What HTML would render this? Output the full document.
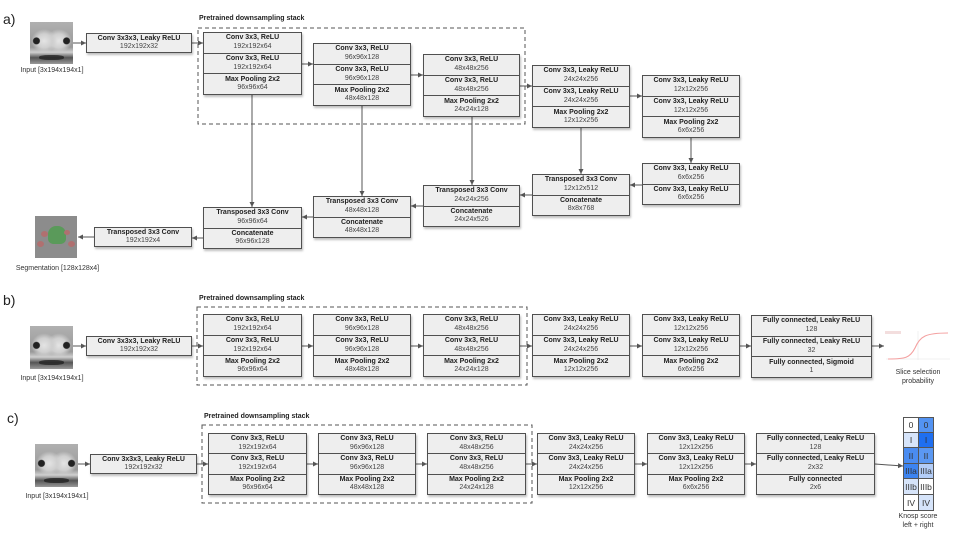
<!DOCTYPE html>
<html><head><meta charset="utf-8">
<style>
body{margin:0;background:#fff;}
#c{position:relative;width:960px;height:540px;overflow:hidden;font-family:"Liberation Sans",Arial,sans-serif;color:#222;}
.b{position:absolute;background:#eeeeee;border:1.3px solid #505050;box-sizing:border-box;box-shadow:1px 2px 2px rgba(0,0,0,0.25);display:flex;flex-direction:column;}
.r{flex:1;display:flex;flex-direction:column;justify-content:center;align-items:center;border-top:1px solid #505050;line-height:8.5px;}
.r:first-child{border-top:none;}
.t{font-weight:bold;font-size:7px;color:#222;}
.s{font-size:7px;color:#444;}
.lbl{position:absolute;font-size:7px;color:#333;text-align:center;white-space:nowrap;}
.ttl{position:absolute;font-size:7px;font-weight:bold;color:#222;}
.let{position:absolute;font-size:14px;color:#222;}
.img{position:absolute;overflow:hidden;background:
radial-gradient(circle at 15% 45%,#222 0,#222 7%,transparent 9%),
radial-gradient(circle at 85% 45%,#222 0,#222 7%,transparent 9%),
radial-gradient(ellipse 30% 28% at 33% 45%,#e4e4e4 0,#cfcfcf 60%,transparent 100%),
radial-gradient(ellipse 30% 28% at 67% 45%,#e4e4e4 0,#cfcfcf 60%,transparent 100%),
linear-gradient(#b0b0b0 0,#9a9a9a 60%,#d0d0d0 72%,#555 85%,#999 100%);}
.img:after{content:"";position:absolute;left:22%;right:22%;bottom:10%;height:12%;background:#1e1e1e;border-radius:40%;opacity:.75;}
svg{position:absolute;left:0;top:0;}
.k{position:absolute;box-sizing:border-box;border:1px solid #555;font-size:8.5px;display:flex;align-items:center;justify-content:center;color:#333;}
</style></head><body><div id="c">
<svg width="960" height="540">
<defs><marker id="a" markerWidth="6" markerHeight="6" refX="5" refY="3" orient="auto" markerUnits="userSpaceOnUse"><path d="M0,0.5 L5,3 L0,5.5z" fill="#555"/></marker></defs>
<g fill="none" stroke="#555" stroke-width="1">
<rect x="198" y="28" width="327" height="96" stroke-dasharray="4,3"/>
<rect x="197" y="307" width="330" height="78" stroke-dasharray="4,3"/>
<rect x="202" y="425" width="330" height="78" stroke-dasharray="4,3"/>
<g marker-end="url(#a)">
<line x1="73" y1="43" x2="86" y2="43"/>
<line x1="192" y1="43" x2="203" y2="43"/>
<line x1="302" y1="64" x2="313" y2="64"/>
<line x1="411" y1="75" x2="423" y2="75"/>
<line x1="520" y1="86" x2="532" y2="86"/>
<line x1="630" y1="96" x2="642" y2="96"/>
<line x1="691" y1="138" x2="691" y2="163"/>
<line x1="642" y1="185" x2="630" y2="185"/>
<line x1="532" y1="195" x2="520" y2="195"/>
<line x1="423" y1="206" x2="411" y2="206"/>
<line x1="313" y1="217" x2="302" y2="217"/>
<line x1="203" y1="238" x2="192" y2="238"/>
<line x1="94" y1="237" x2="78" y2="237"/>
<line x1="252" y1="95" x2="252" y2="207"/>
<line x1="362" y1="106" x2="362" y2="196"/>
<line x1="472" y1="117" x2="472" y2="185"/>
<line x1="581" y1="128" x2="581" y2="174"/>
<line x1="73" y1="346" x2="86" y2="346"/>
<line x1="192" y1="346" x2="203" y2="346"/>
<line x1="302" y1="346" x2="313" y2="346"/>
<line x1="411" y1="346" x2="423" y2="346"/>
<line x1="520" y1="346" x2="532" y2="346"/>
<line x1="630" y1="346" x2="642" y2="346"/>
<line x1="740" y1="346" x2="751" y2="346"/>
<line x1="872" y1="346" x2="884" y2="346"/>
<line x1="78" y1="464" x2="90" y2="464"/>
<line x1="197" y1="464" x2="208" y2="464"/>
<line x1="307" y1="464" x2="318" y2="464"/>
<line x1="416" y1="464" x2="427" y2="464"/>
<line x1="526" y1="464" x2="537" y2="464"/>
<line x1="635" y1="464" x2="647" y2="464"/>
<line x1="745" y1="464" x2="756" y2="464"/>
<line x1="875" y1="464" x2="903" y2="466"/>
</g></g>
<g stroke="#e6e6e6" stroke-width="0.6" fill="none"><line x1="886" y1="359" x2="950" y2="359"/><line x1="918" y1="331" x2="918" y2="360"/></g>
<rect x="885" y="331" width="16" height="3" fill="#f3dede"/>
<path d="M888,359 C905,359 910,358 915,348 C920,336 926,333 948,333" stroke="#f4a0a0" stroke-width="1.1" fill="none"/>
</svg>

<div class="let" style="left:3px;top:11px">a)</div>
<div class="let" style="left:3px;top:292px">b)</div>
<div class="let" style="left:7px;top:410px">c)</div>

<div class="img" style="left:30px;top:22px;width:43px;height:42px"></div>
<div class="lbl" style="left:12px;top:67px;width:80px">Input [3x194x194x1]</div>
<div class="img" style="left:30px;top:326px;width:43px;height:43px"></div>
<div class="lbl" style="left:12px;top:375px;width:80px">Input [3x194x194x1]</div>
<div class="img" style="left:35px;top:444px;width:43px;height:43px"></div>
<div class="lbl" style="left:17px;top:493px;width:80px">Input [3x194x194x1]</div>

<div style="position:absolute;left:35px;top:216px;width:42px;height:42px;background:#8c8c8c;overflow:hidden">
<div style="position:absolute;left:13px;top:10px;width:18px;height:18px;background:#5a9a5a;border-radius:45% 45% 30% 30%"></div>
<div style="position:absolute;left:6px;top:15px;width:7px;height:6px;background:#b07070;border-radius:50%"></div>
<div style="position:absolute;left:29px;top:14px;width:6px;height:5px;background:#b07070;border-radius:50%"></div>
<div style="position:absolute;left:2px;top:25px;width:7px;height:6px;background:#b07070;border-radius:50%"></div>
<div style="position:absolute;left:33px;top:25px;width:7px;height:6px;background:#b07070;border-radius:50%"></div>
</div>
<div class="lbl" style="left:10px;top:265px;width:95px">Segmentation [128x128x4]</div>

<div class="ttl" style="left:199px;top:15px">Pretrained downsampling stack</div>
<div class="ttl" style="left:199px;top:295px">Pretrained downsampling stack</div>
<div class="ttl" style="left:204px;top:413px">Pretrained downsampling stack</div>

<!-- Row a -->
<div class="b" style="left:86px;top:33px;width:106px;height:20px"><div class="r"><span class="t">Conv 3x3x3, Leaky ReLU</span><span class="s">192x192x32</span></div></div>
<div class="b" style="left:203px;top:32px;width:99px;height:63px"><div class="r"><span class="t">Conv 3x3, ReLU</span><span class="s">192x192x64</span></div><div class="r"><span class="t">Conv 3x3, ReLU</span><span class="s">192x192x64</span></div><div class="r"><span class="t">Max Pooling 2x2</span><span class="s">96x96x64</span></div></div>
<div class="b" style="left:313px;top:43px;width:98px;height:63px"><div class="r"><span class="t">Conv 3x3, ReLU</span><span class="s">96x96x128</span></div><div class="r"><span class="t">Conv 3x3, ReLU</span><span class="s">96x96x128</span></div><div class="r"><span class="t">Max Pooling 2x2</span><span class="s">48x48x128</span></div></div>
<div class="b" style="left:423px;top:54px;width:97px;height:63px"><div class="r"><span class="t">Conv 3x3, ReLU</span><span class="s">48x48x256</span></div><div class="r"><span class="t">Conv 3x3, ReLU</span><span class="s">48x48x256</span></div><div class="r"><span class="t">Max Pooling 2x2</span><span class="s">24x24x128</span></div></div>
<div class="b" style="left:532px;top:65px;width:98px;height:63px"><div class="r"><span class="t">Conv 3x3, Leaky ReLU</span><span class="s">24x24x256</span></div><div class="r"><span class="t">Conv 3x3, Leaky ReLU</span><span class="s">24x24x256</span></div><div class="r"><span class="t">Max Pooling 2x2</span><span class="s">12x12x256</span></div></div>
<div class="b" style="left:642px;top:75px;width:98px;height:63px"><div class="r"><span class="t">Conv 3x3, Leaky ReLU</span><span class="s">12x12x256</span></div><div class="r"><span class="t">Conv 3x3, Leaky ReLU</span><span class="s">12x12x256</span></div><div class="r"><span class="t">Max Pooling 2x2</span><span class="s">6x6x256</span></div></div>
<div class="b" style="left:642px;top:163px;width:98px;height:42px"><div class="r"><span class="t">Conv 3x3, Leaky ReLU</span><span class="s">6x6x256</span></div><div class="r"><span class="t">Conv 3x3, Leaky ReLU</span><span class="s">6x6x256</span></div></div>
<div class="b" style="left:532px;top:174px;width:98px;height:42px"><div class="r"><span class="t">Transposed 3x3 Conv</span><span class="s">12x12x512</span></div><div class="r"><span class="t">Concatenate</span><span class="s">8x8x768</span></div></div>
<div class="b" style="left:423px;top:185px;width:97px;height:42px"><div class="r"><span class="t">Transposed 3x3 Conv</span><span class="s">24x24x256</span></div><div class="r"><span class="t">Concatenate</span><span class="s">24x24x526</span></div></div>
<div class="b" style="left:313px;top:196px;width:98px;height:42px"><div class="r"><span class="t">Transposed 3x3 Conv</span><span class="s">48x48x128</span></div><div class="r"><span class="t">Concatenate</span><span class="s">48x48x128</span></div></div>
<div class="b" style="left:203px;top:207px;width:99px;height:42px"><div class="r"><span class="t">Transposed 3x3 Conv</span><span class="s">96x96x64</span></div><div class="r"><span class="t">Concatenate</span><span class="s">96x96x128</span></div></div>
<div class="b" style="left:94px;top:227px;width:98px;height:20px"><div class="r"><span class="t">Transposed 3x3 Conv</span><span class="s">192x192x4</span></div></div>

<!-- Row b -->
<div class="b" style="left:86px;top:336px;width:106px;height:20px"><div class="r"><span class="t">Conv 3x3x3, Leaky ReLU</span><span class="s">192x192x32</span></div></div>
<div class="b" style="left:203px;top:314px;width:99px;height:63px"><div class="r"><span class="t">Conv 3x3, ReLU</span><span class="s">192x192x64</span></div><div class="r"><span class="t">Conv 3x3, ReLU</span><span class="s">192x192x64</span></div><div class="r"><span class="t">Max Pooling 2x2</span><span class="s">96x96x64</span></div></div>
<div class="b" style="left:313px;top:314px;width:98px;height:63px"><div class="r"><span class="t">Conv 3x3, ReLU</span><span class="s">96x96x128</span></div><div class="r"><span class="t">Conv 3x3, ReLU</span><span class="s">96x96x128</span></div><div class="r"><span class="t">Max Pooling 2x2</span><span class="s">48x48x128</span></div></div>
<div class="b" style="left:423px;top:314px;width:97px;height:63px"><div class="r"><span class="t">Conv 3x3, ReLU</span><span class="s">48x48x256</span></div><div class="r"><span class="t">Conv 3x3, ReLU</span><span class="s">48x48x256</span></div><div class="r"><span class="t">Max Pooling 2x2</span><span class="s">24x24x128</span></div></div>
<div class="b" style="left:532px;top:314px;width:98px;height:63px"><div class="r"><span class="t">Conv 3x3, Leaky ReLU</span><span class="s">24x24x256</span></div><div class="r"><span class="t">Conv 3x3, Leaky ReLU</span><span class="s">24x24x256</span></div><div class="r"><span class="t">Max Pooling 2x2</span><span class="s">12x12x256</span></div></div>
<div class="b" style="left:642px;top:314px;width:98px;height:63px"><div class="r"><span class="t">Conv 3x3, Leaky ReLU</span><span class="s">12x12x256</span></div><div class="r"><span class="t">Conv 3x3, Leaky ReLU</span><span class="s">12x12x256</span></div><div class="r"><span class="t">Max Pooling 2x2</span><span class="s">6x6x256</span></div></div>
<div class="b" style="left:751px;top:315px;width:121px;height:63px"><div class="r"><span class="t">Fully connected, Leaky ReLU</span><span class="s">128</span></div><div class="r"><span class="t">Fully connected, Leaky ReLU</span><span class="s">32</span></div><div class="r"><span class="t">Fully connected, Sigmoid</span><span class="s">1</span></div></div>
<div class="lbl" style="left:883px;top:369px;width:70px;line-height:8.5px">Slice selection<br>probability</div>

<!-- Row c -->
<div class="b" style="left:90px;top:454px;width:107px;height:20px"><div class="r"><span class="t">Conv 3x3x3, Leaky ReLU</span><span class="s">192x192x32</span></div></div>
<div class="b" style="left:208px;top:433px;width:99px;height:62px"><div class="r"><span class="t">Conv 3x3, ReLU</span><span class="s">192x192x64</span></div><div class="r"><span class="t">Conv 3x3, ReLU</span><span class="s">192x192x64</span></div><div class="r"><span class="t">Max Pooling 2x2</span><span class="s">96x96x64</span></div></div>
<div class="b" style="left:318px;top:433px;width:98px;height:62px"><div class="r"><span class="t">Conv 3x3, ReLU</span><span class="s">96x96x128</span></div><div class="r"><span class="t">Conv 3x3, ReLU</span><span class="s">96x96x128</span></div><div class="r"><span class="t">Max Pooling 2x2</span><span class="s">48x48x128</span></div></div>
<div class="b" style="left:427px;top:433px;width:99px;height:62px"><div class="r"><span class="t">Conv 3x3, ReLU</span><span class="s">48x48x256</span></div><div class="r"><span class="t">Conv 3x3, ReLU</span><span class="s">48x48x256</span></div><div class="r"><span class="t">Max Pooling 2x2</span><span class="s">24x24x128</span></div></div>
<div class="b" style="left:537px;top:433px;width:98px;height:62px"><div class="r"><span class="t">Conv 3x3, Leaky ReLU</span><span class="s">24x24x256</span></div><div class="r"><span class="t">Conv 3x3, Leaky ReLU</span><span class="s">24x24x256</span></div><div class="r"><span class="t">Max Pooling 2x2</span><span class="s">12x12x256</span></div></div>
<div class="b" style="left:647px;top:433px;width:98px;height:62px"><div class="r"><span class="t">Conv 3x3, Leaky ReLU</span><span class="s">12x12x256</span></div><div class="r"><span class="t">Conv 3x3, Leaky ReLU</span><span class="s">12x12x256</span></div><div class="r"><span class="t">Max Pooling 2x2</span><span class="s">6x6x256</span></div></div>
<div class="b" style="left:756px;top:433px;width:119px;height:62px"><div class="r"><span class="t">Fully connected, Leaky ReLU</span><span class="s">128</span></div><div class="r"><span class="t">Fully connected, Leaky ReLU</span><span class="s">2x32</span></div><div class="r"><span class="t">Fully connected</span><span class="s">2x6</span></div></div>

<!-- Knosp grid -->
<div class="k" style="left:903px;top:417px;width:16px;height:16px;background:#fff">0</div>
<div class="k" style="left:918px;top:417px;width:16px;height:16px;background:#5393f2">0</div>
<div class="k" style="left:903px;top:432px;width:16px;height:16px;background:#d6e4fa">I</div>
<div class="k" style="left:918px;top:432px;width:16px;height:16px;background:#1f6ff0">I</div>
<div class="k" style="left:903px;top:447px;width:16px;height:17px;background:#4a8cf1">II</div>
<div class="k" style="left:918px;top:447px;width:16px;height:17px;background:#5b98f2">II</div>
<div class="k" style="left:903px;top:463px;width:16px;height:16px;background:#3d84f0">IIIa</div>
<div class="k" style="left:918px;top:463px;width:16px;height:16px;background:#b3cdf7">IIIa</div>
<div class="k" style="left:903px;top:478px;width:16px;height:17px;background:#d6e4fa">IIIb</div>
<div class="k" style="left:918px;top:478px;width:16px;height:17px;background:#fff">IIIb</div>
<div class="k" style="left:903px;top:494px;width:16px;height:17px;background:#fff">IV</div>
<div class="k" style="left:918px;top:494px;width:16px;height:17px;background:#d6e4fa">IV</div>
<div class="lbl" style="left:888px;top:513px;width:60px;line-height:8.5px">Knosp score<br>left + right</div>
</div></body></html>
